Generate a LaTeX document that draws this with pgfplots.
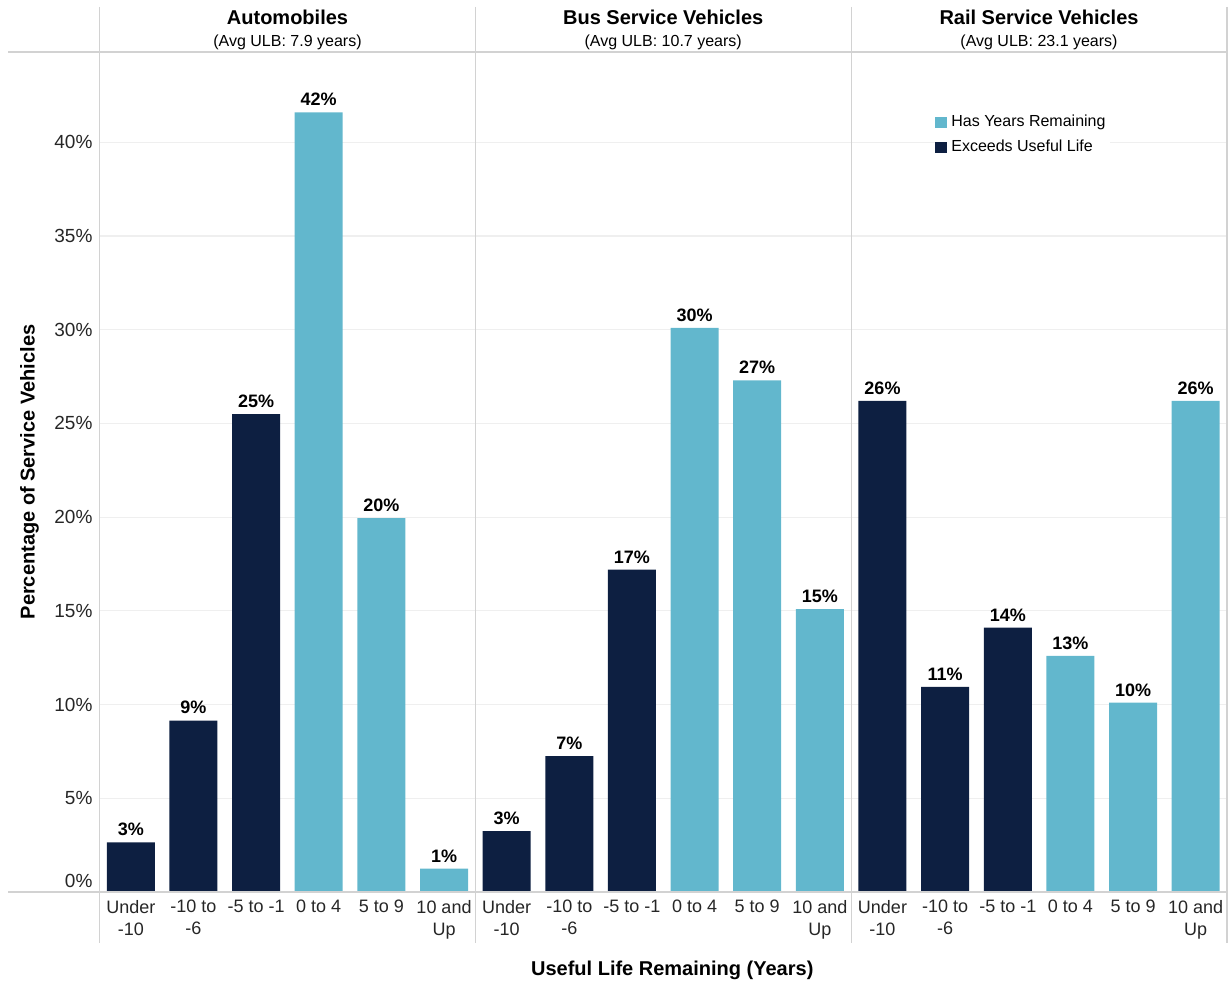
\documentclass[border=0pt]{standalone}
\usepackage{pgfplots}
\usepackage{pgfplotstable}
\pgfplotsset{compat=1.18}
\usepackage{fontspec}
\setmainfont{Liberation Sans}
\definecolor{lightbar}{HTML}{62B7CD}
\definecolor{darkbar}{HTML}{0D1F41}
\definecolor{divider}{HTML}{D2D2D2}
\definecolor{gridc}{HTML}{EFEFEF}

\pgfplotstableread{
x y lab
0.5 2.65 3
1.5 9.15 9
2.5 25.5 25
6.5 3.25 3
7.5 7.25 7
8.5 17.2 17
12.5 26.2 26
13.5 10.95 11
14.5 14.1 14
}\darkdata

\pgfplotstableread{
x y lab
3.5 41.6 42
4.5 19.95 20
5.5 1.25 1
9.5 30.1 30
10.5 27.3 27
11.5 15.1 15
15.5 12.6 13
16.5 10.1 10
17.5 26.2 26
}\lightdata

\begin{document}
\begin{tikzpicture}
\useasboundingbox (0,0) rectangle (615.5pt,493pt);
\begin{axis}[
  at={(49.75pt,47pt)}, anchor=south west,
  scale only axis, width=563.75pt, height=420pt,
  xmin=0, xmax=18, ymin=0, ymax=44.82,
  axis line style={draw=none}, major tick length=0pt,
  ytick={0,5,...,40},
  yticklabel={\pgfmathtruncatemacro\tk{round(\tick)}\ifnum\tk=0 \raisebox{11pt}{0\%}\else\tk\%\fi},
  y tick label style={font=\fontsize{9.5}{11}\selectfont, text=black!85},
  ymajorgrids, grid style={gridc, line width=0.6pt},
  xtick={0.5,1.5,...,17.5},
  xticklabels={Under\\-10, -10 to\\-6, -5 to -1, 0 to 4, 5 to 9, 10 and\\Up,
               Under\\-10, -10 to\\-6, -5 to -1, 0 to 4, 5 to 9, 10 and\\Up,
               Under\\-10, -10 to\\-6, -5 to -1, 0 to 4, 5 to 9, 10 and\\Up},
  x tick label style={font=\fontsize{9}{11}\selectfont, align=center, anchor=north, text=black!85, inner sep=2pt, yshift=-2pt},
  ybar, bar width=24pt, bar shift=0pt,
  nodes near coords={\textbf{\pgfplotspointmeta\%}},
  point meta=explicit symbolic,
  every node near coord/.append style={font=\fontsize{9}{11}\selectfont, text=black, inner sep=3pt},
  clip=false,
  xlabel={Useful Life Remaining (Years)},
  ylabel={Percentage of Service Vehicles},
  every axis x label/.style={at={(rel axis cs:0.508,-0.093)}, anchor=center, font=\bfseries\fontsize{10}{12}\selectfont},
  every axis y label/.style={at={(rel axis cs:-0.062,0.5)}, anchor=center, rotate=90, font=\bfseries\fontsize{10}{12}\selectfont},
  legend style={at={(rel axis cs:0.741,0.930)}, anchor=north west, draw=none, fill=white,
    inner sep=0pt, font=\fontsize{8}{9.6}\selectfont, row sep=1.2pt,
    cells={anchor=west}},
  legend image code/.code={\draw[#1,draw=none] (0pt,-2.75pt) rectangle (6pt,2.75pt);},
]
\addplot[fill=lightbar, draw=none] table[x=x, y=y, meta=lab] {\lightdata};
\addlegendentry{Has Years Remaining}
\addplot[fill=darkbar, draw=none] table[x=x, y=y, meta=lab] {\darkdata};
\addlegendentry{Exceeds Useful Life}
\end{axis}
% panel frame lines
\draw[divider, line width=0.7pt] (49.75pt,489.5pt) -- (49.75pt,21.5pt);
\draw[divider, line width=0.7pt] (237.75pt,489.5pt) -- (237.75pt,21.5pt);
\draw[divider, line width=0.7pt] (425.6pt,489.5pt) -- (425.6pt,21.5pt);
\draw[divider, line width=0.7pt] (613.5pt,489.5pt) -- (613.5pt,21.5pt);
\draw[divider, line width=0.7pt] (4pt,47pt) -- (613.5pt,47pt);
\draw[divider, line width=0.7pt] (4pt,467pt) -- (613.5pt,467pt);
% panel titles
\node[font=\bfseries\fontsize{10}{12}\selectfont] at (143.75pt,484.5pt) {Automobiles};
\node[font=\fontsize{8}{9.6}\selectfont] at (143.75pt,472pt) {(Avg ULB: 7.9 years)};
\node[font=\bfseries\fontsize{10}{12}\selectfont] at (331.6pt,484.5pt) {Bus Service Vehicles};
\node[font=\fontsize{8}{9.6}\selectfont] at (331.6pt,472pt) {(Avg ULB: 10.7 years)};
\node[font=\bfseries\fontsize{10}{12}\selectfont] at (519.5pt,484.5pt) {Rail Service Vehicles};
\node[font=\fontsize{8}{9.6}\selectfont] at (519.5pt,472pt) {(Avg ULB: 23.1 years)};
\end{tikzpicture}
\end{document}
